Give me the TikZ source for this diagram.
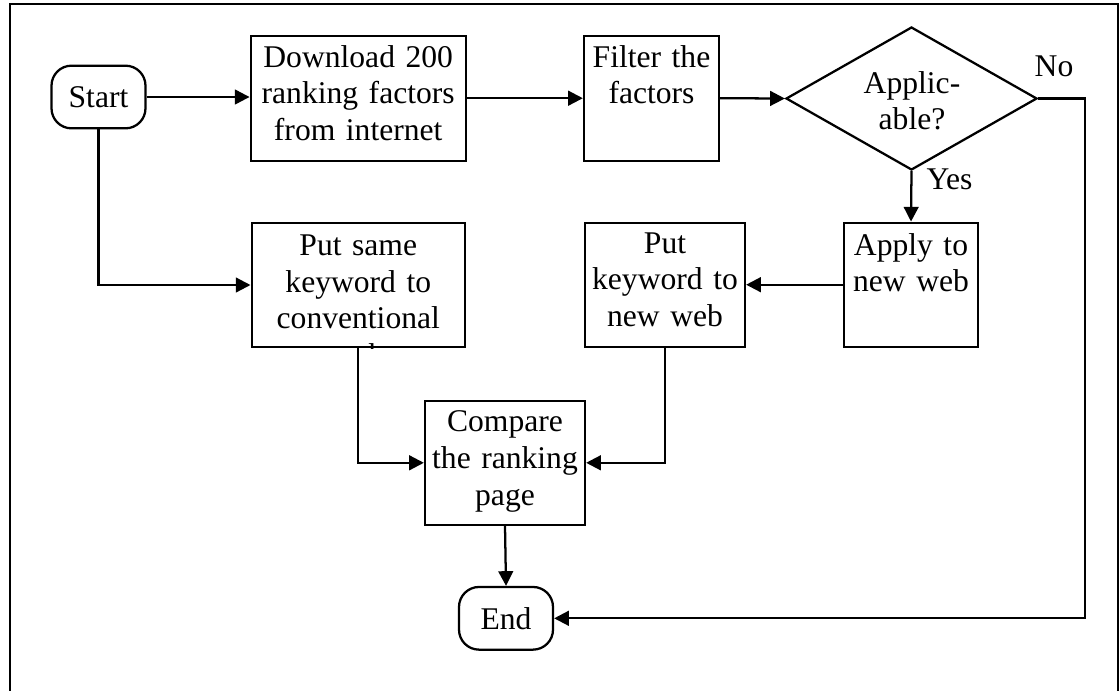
\documentclass[tikz,border=0pt]{standalone}
\usepackage{fontspec}
\setmainfont{Liberation Serif}
\usetikzlibrary{arrows.meta,shapes.geometric}
\begin{document}
\begin{tikzpicture}[x=0.75pt,y=-0.75pt,
  ln/.style={line width=1.7pt},
  arr/.style={ln,-{Triangle[length=11pt,width=11pt]}},
  boxn/.style={draw,line width=1.7pt,inner sep=0pt,rectangle},
  termn/.style={draw,line width=1.7pt,rounded corners=15pt,inner sep=0pt,minimum width=70.5pt,minimum height=47pt,font=\fontsize{23.7}{27.5}\selectfont},
  txt/.style={anchor=base,text width=6cm,align=center,inner sep=0pt,font=\fontsize{23.7}{27.5}\selectfont},
  lbl/.style={anchor=base,inner sep=0pt,font=\fontsize{23.7}{27.5}\selectfont}]
\useasboundingbox (0,0) rectangle (1120,690);
\clip (0,0) rectangle (1120,690);
% outer frame
\draw[line width=2pt] (10,700) -- (10,4) -- (1118,4) -- (1118,700);

% terminals
\node[termn] (start) at (98.5,97) {Start};
\node[termn] (end) at (506,618.3) {End};

% boxes
\node[boxn,minimum width=161.25pt,minimum height=93.75pt] (dl) at (358.2,98.2) {};
\node[txt] (dlt) at (358.2,67) {Download 200\\ranking factors\\from internet};
\node[boxn,minimum width=101.25pt,minimum height=93.75pt] (filt) at (651.5,98.2) {};
\node[txt] (filtt) at (651.5,67) {Filter the\\factors};

\node[draw,diamond,line width=1.7pt,inner sep=0pt,minimum width=188.25pt,minimum height=107.25pt] (dia) at (911.5,98.5) {};
\node[txt] (diat) at (912,93) {Applic-\\able?};

\node[boxn,minimum width=100.5pt,minimum height=93pt] (apply) at (911,284.7) {};
\node[txt] (applyt) at (911,255) {Apply to\\new web};

\node[boxn,minimum width=120pt,minimum height=93pt] (putkw) at (665,284.7) {};
\node[txt] (putkwt) at (665,253) {Put\\keyword to\\new web};

\node[boxn,minimum width=160pt,minimum height=93pt] (putsame) at (358.3,285) {};
\begin{scope}
  \clip (putsame.south west) rectangle (putsame.north east);
  \node[txt] (putsamet) at (358.3,255.5) {Put same\\keyword to\\conventional\\web};
\end{scope}

\node[boxn,minimum width=120pt,minimum height=93pt] (compare) at (505,462.8) {};
\node[txt] (comparet) at (505,431.7) {Compare\\the ranking\\page};

% labels
\node[lbl] (no) at (1054,76) {No};
\node[lbl] (yes) at (949.5,189) {Yes};

\coordinate (noc) at (1085,98.5);

% connectors
\draw[arr] (start.east) -- (start.east -| dl.west);
\draw[arr] (dl.east) -- (filt.west);
\draw[arr] (filt.east) -- (dia.west);
\draw[arr] (dia.east) -- (noc) |- (end.east);
\draw[arr] (dia.south) -- (apply.north);
\draw[arr] (apply.west) -- (putkw.east);
\draw[arr] (putkw.south) |- (compare.east);
\draw[arr] (putsame.south) |- (compare.west);
\draw[arr] (start.south) |- (putsame.west);
\draw[arr] (compare.south) -- (end.north);
\end{tikzpicture}
\end{document}
